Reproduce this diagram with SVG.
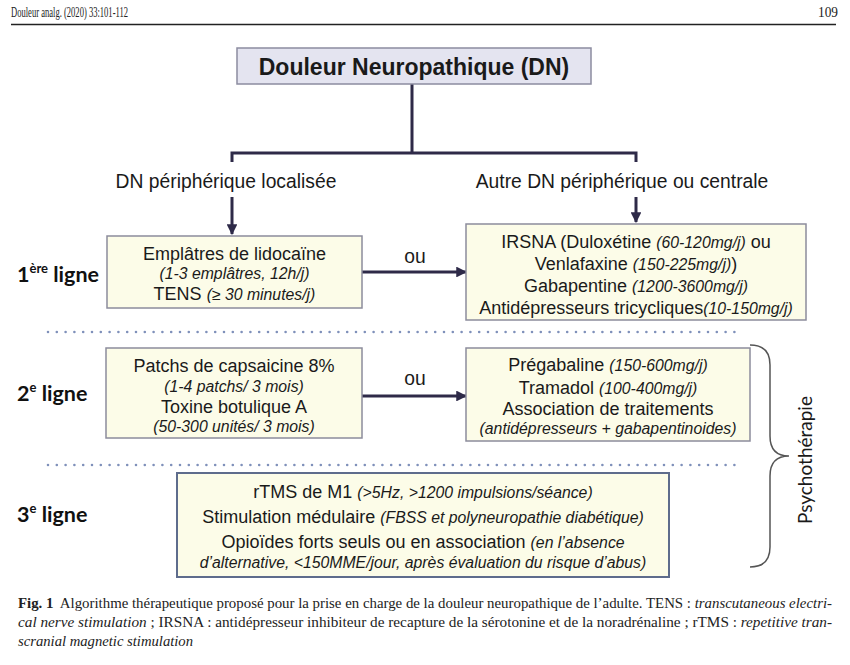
<svg xmlns="http://www.w3.org/2000/svg" width="850" height="665" viewBox="0 0 850 665">
<defs>
<style>
.hdr{font-family:"Liberation Serif",serif;font-size:15px;fill:#222}
.cap{font-family:"Liberation Serif",serif;font-size:14px;fill:#222}
.box{fill:#fcfce8;stroke:#8c8c9c;stroke-width:1.5}
.t{font-family:"Liberation Sans",Arial,sans-serif;font-size:18px;fill:#1a1a1a;text-anchor:middle}
.i{font-style:italic;font-size:15.8px}
.lbl{font-family:"Liberation Sans",Arial,sans-serif;font-size:19.3px;fill:#1a1a1a;text-anchor:middle}
.lg{font-family:Lato,"Open Sans",sans-serif;font-size:21.5px;font-weight:bold;fill:#111}
.con{stroke:#2e2a48;stroke-width:3;fill:none}
.dot{stroke:#7f90ba;stroke-width:2.6;stroke-dasharray:0 8.8;stroke-linecap:round}
</style>
<marker id="ah" viewBox="0 0 10 10" refX="9" refY="5" markerWidth="3.6" markerHeight="3.6" orient="auto" markerUnits="strokeWidth">
<path d="M0,0 L10,5 L0,10 Z" fill="#2e2a48"/>
</marker>
</defs>
<rect width="850" height="665" fill="#ffffff"/>
<g id="header">
<text class="hdr" x="11" y="17" textLength="117" lengthAdjust="spacingAndGlyphs">Douleur analg. (2020) 33:101-112</text>
<text class="hdr" x="838" y="17" text-anchor="end" textLength="20" lengthAdjust="spacingAndGlyphs">109</text>
<line x1="11" y1="24.5" x2="836" y2="24.5" stroke="#222" stroke-width="1.3"/>
</g>
<g id="connectors">
<path class="con" d="M412,84 V153 M232,162 V153 H636 V162"/>
<line class="con" x1="232" y1="197" x2="232" y2="234" marker-end="url(#ah)"/>
<line class="con" x1="636" y1="197" x2="636" y2="222" marker-end="url(#ah)"/>
<line class="con" x1="362" y1="272" x2="466" y2="272" marker-end="url(#ah)"/>
<line class="con" x1="362" y1="396" x2="466" y2="396" marker-end="url(#ah)"/>
<text class="lbl" x="226" y="188">DN périphérique localisée</text>
<text class="lbl" x="622" y="188">Autre DN périphérique ou centrale</text>
<text class="lbl" x="415" y="263">ou</text>
<text class="lbl" x="415" y="385">ou</text>
</g>
<g id="node-title">
<rect x="237" y="48" width="354" height="36" fill="#e4e4f0" stroke="#8c8ca0" stroke-width="1.5"/>
<text x="414" y="74.5" text-anchor="middle" font-family="Liberation Sans,Arial,sans-serif" font-size="23" font-weight="bold" fill="#1a1a1a">Douleur Neuropathique (DN)</text>
</g>
<g id="node-1L">
<rect class="box" x="107" y="236" width="255" height="72"/>
<text class="t" x="234.5" y="260">Emplâtres de lidocaïne</text>
<text class="t i" x="234.5" y="279">(1-3 emplâtres, 12h/j)</text>
<text class="t" x="234.5" y="300">TENS <tspan class="i">(≥ 30 minutes/j)</tspan></text>
</g>
<g id="node-1R">
<rect class="box" x="466" y="224" width="340" height="96"/>
<text class="t" x="636" y="248">IRSNA (Duloxétine <tspan class="i">(60-120mg/j)</tspan> ou</text>
<text class="t" x="636" y="270">Venlafaxine <tspan class="i">(150-225mg/j)</tspan>)</text>
<text class="t" x="636" y="292">Gabapentine <tspan class="i">(1200-3600mg/j)</tspan></text>
<text class="t" x="636" y="314">Antidépresseurs tricycliques<tspan class="i">(10-150mg/j)</tspan></text>
</g>
<g id="separators">
<line class="dot" x1="48" y1="332" x2="742" y2="332"/>
<line class="dot" x1="48" y1="465" x2="742" y2="465"/>
</g>
<g id="node-2L">
<rect class="box" x="106" y="348" width="256" height="90"/>
<text class="t" x="234" y="372">Patchs de capsaicine 8%</text>
<text class="t i" x="234" y="391.5">(1-4 patchs/ 3 mois)</text>
<text class="t" x="234" y="413">Toxine botulique A</text>
<text class="t i" x="234" y="432">(50-300 unités/ 3 mois)</text>
</g>
<g id="node-2R">
<rect class="box" x="466" y="348" width="284" height="93"/>
<text class="t" x="608" y="371">Prégabaline <tspan class="i">(150-600mg/j)</tspan></text>
<text class="t" x="608" y="394">Tramadol <tspan class="i">(100-400mg/j)</tspan></text>
<text class="t" x="608" y="415">Association de traitements</text>
<text class="t i" x="608" y="434">(antidépresseurs + gabapentinoides)</text>
</g>
<g id="node-3">
<rect x="177" y="473" width="492" height="104" fill="#fcfce8" stroke="#5e6c8c" stroke-width="2"/>
<text class="t" x="423" y="498">rTMS de M1 <tspan class="i">(&gt;5Hz, &gt;1200 impulsions/séance)</tspan></text>
<text class="t" x="423" y="523">Stimulation médulaire <tspan class="i">(FBSS et polyneuropathie diabétique)</tspan></text>
<text class="t" x="423" y="548">Opioïdes forts seuls ou en association <tspan class="i">(en l’absence</tspan></text>
<text class="t i" x="423" y="568">d’alternative, &lt;150MME/jour, après évaluation du risque d’abus)</text>
</g>
<g id="labels">
<text class="lg" x="17" y="282">1<tspan font-size="13" dy="-9">ère</tspan><tspan dy="9"> ligne</tspan></text>
<text class="lg" x="17" y="401">2<tspan font-size="13" dy="-9">e</tspan><tspan dy="9"> ligne</tspan></text>
<text class="lg" x="17" y="522">3<tspan font-size="13" dy="-9">e</tspan><tspan dy="9"> ligne</tspan></text>
</g>
<g id="brace">
<path d="M750,345 Q770,345 770,365 V436 Q770,456 789,456 Q770,456 770,476 V547 Q770,567 750,567" fill="none" stroke="#555" stroke-width="1.5"/>
<text transform="translate(812,460) rotate(-90)" text-anchor="middle" font-family="Lato,'Open Sans',sans-serif" font-size="19" fill="#1a1a1a">Psychothérapie</text>
</g>
<g id="caption">
<text class="cap" x="18" y="608" textLength="814" lengthAdjust="spacingAndGlyphs"><tspan font-weight="bold">Fig. 1</tspan><tspan dx="6">Algorithme thérapeutique proposé pour la prise en charge de la douleur neuropathique de l’adulte. TENS : </tspan><tspan font-style="italic">transcutaneous electri-</tspan></text>
<text class="cap" x="18" y="627" textLength="814" lengthAdjust="spacingAndGlyphs"><tspan font-style="italic">cal nerve stimulation</tspan> ; IRSNA : antidépresseur inhibiteur de recapture de la sérotonine et de la noradrénaline ; rTMS : <tspan font-style="italic">repetitive tran-</tspan></text>
<text class="cap" x="18" y="646" textLength="175" lengthAdjust="spacingAndGlyphs" font-style="italic">scranial magnetic stimulation</text>
</g>
</svg>
